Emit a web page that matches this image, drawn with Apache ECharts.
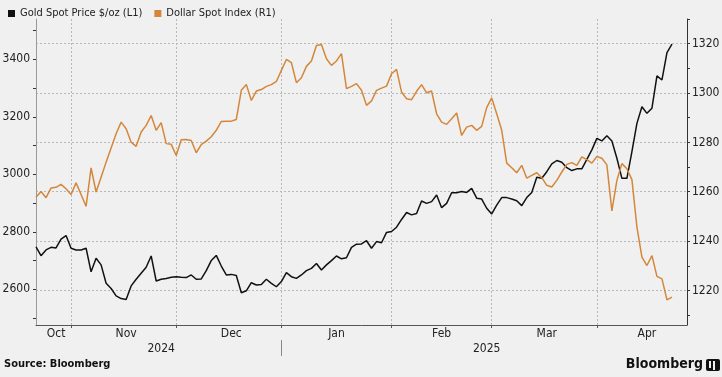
<!DOCTYPE html>
<html>
<head>
<meta charset="utf-8">
<script src="https://cdn.jsdelivr.net/npm/echarts@6/dist/echarts.min.js"></script>
<style>
html,body{margin:0;padding:0;background:#f0f0f0;}
#main{width:722px;height:377px;}
</style>
</head>
<body>
<div id="main"></div>
<script>
// gold spot, $/oz (left axis), one value per trading day from 23 Oct 2024
var goldSpot = [2748,2717,2737,2746,2744,2775,2787,2743,2737,2737,2743,2661,2708,2685,2621,2603,2577,2568,2565,2612,2635,2656,
  2677,2716,2629,2635,2638,2642,2644,2642,2641,2650,2635,2636,2665,2700,2718,2681,2650,2652,2648,2588,2595,2623,
  2615,2617,2635,2621,2609,2627,2658,2644,2638,2650,2665,2673,2690,2667,2685,2700,2716,2706,2710,2746,2757,2758,
  2769,2743,2766,2762,2798,2801,2816,2843,2867,2859,2864,2907,2899,2905,2928,2884,2899,2936,2936,2940,2937,2951,
  2917,2914,2882,2862,2893,2919,2919,2914,2908,2891,2919,2937,2990,2986,3009,3036,3048,3042,3023,3013,3019,3019,
  3052,3085,3125,3116,3134,3116,3056,2986,2986,3079,3177,3235,3212,3230,3342,3328,3423,3453];
// Bloomberg dollar spot index (right axis)
var dollarIndex = [1257.8,1260.1,1257.6,1261.5,1261.8,1263.0,1261.2,1258.9,1263.6,1258.9,1254.1,1269.7,1259.9,1265.9,1272.0,1277.7,1283.5,1288.2,1285.5,1280.1,1278.4,1284.2,
  1286.9,1290.9,1284.9,1288.0,1279.5,1279.2,1274.7,1281.1,1281.2,1280.8,1275.8,1279.1,1280.5,1282.3,1284.9,1288.5,1288.6,1288.6,1289.3,1301.1,1303.5,1297.0,
  1300.8,1301.4,1302.7,1303.4,1304.7,1309.2,1313.6,1312.3,1304.2,1306.2,1310.8,1313.0,1319.3,1319.7,1313.9,1311.2,1313.0,1316.0,1301.8,1302.7,1303.8,1301.1,
  1295.0,1296.8,1301.1,1302.0,1302.8,1307.8,1309.6,1300.4,1297.7,1297.3,1300.7,1303.4,1300.1,1300.8,1291.6,1288.2,1287.3,1289.6,1291.9,1282.8,1286.2,1286.9,
  1284.9,1286.5,1294.1,1298.0,1291.6,1284.9,1271.6,1269.7,1267.7,1270.7,1265.5,1266.6,1267.7,1265.7,1262.6,1261.9,1264.6,1268.0,1271.1,1271.8,1270.7,1274.1,
  1273.0,1271.6,1274.3,1273.6,1270.9,1252.2,1264.6,1271.4,1269.3,1264.9,1245.7,1233.5,1230.1,1234.1,1225.7,1224.7,1216.2,1217.3];

var monthNames = ['Jan','Feb','Mar','Apr','May','Jun','Jul','Aug','Sep','Oct','Nov','Dec'];
var goldLabels = [2600,2800,3000,3200,3400];
var goldTicks = [2500,2600,2700,2800,2900,3000,3100,3200,3300,3400,3500];
var dollarLabels = [1220,1240,1260,1280,1300,1320];
var dollarTicks = [1210,1220,1230,1240,1250,1260,1270,1280,1290,1300,1310,1320,1330];
var holidays = ['2024-12-25','2025-01-01'];

var font = "'DejaVu Sans Condensed','DejaVu Sans',sans-serif";

// trading days on the axis
var days = [];
var d = new Date(Date.UTC(2024,9,23));
var end = new Date(Date.UTC(2025,3,25));
while (d <= end) {
	var s = d.toISOString().slice(0,10);
	var wd = d.getUTCDay();
	if (wd !== 0 && wd !== 6 && holidays.indexOf(s) < 0) days.push(s);
	d.setUTCDate(d.getUTCDate()+1);
}

function groups(len){
	var g = [];
	days.forEach(function(s,i){
		var k = s.slice(0,len);
		if (!g.length || g[g.length-1].k !== k) g.push({k:k,first:i,last:i});
		else g[g.length-1].last = i;
	});
	return g;
}
var months = groups(7), years = groups(4);
var monthStart = {}, monthMid = {}, yearMid = {};
months.forEach(function(m,j){
	if (j > 0) monthStart[m.first] = true;
	monthMid[Math.round((m.first+m.last+1)/2)] = true;
});
years.forEach(function(y){ yearMid[Math.round((y.first+y.last+1)/2)] = true; });
var yearBreak = years[1].first;

function plain(v){ return String(v); }

var myChart = echarts.init(document.getElementById('main'));
var option = {
	backgroundColor:'#f0f0f0',
	animation:false,
	textStyle:{fontFamily:font},
	legend:{
		left:3, top:3,
		icon:'rect', itemWidth:7, itemHeight:7, itemGap:12,
		textStyle:{fontSize:11, color:'#222', fontFamily:font},
		data:['Gold Spot Price $/oz (L1)','Dollar Spot Index (R1)']
	},
	grid:{left:36, right:35, top:19, bottom:52, outerBoundsMode:'none'},
	xAxis:[{
		type:'category', data:days, boundaryGap:false,
		axisLine:{lineStyle:{color:'#555'}},
		axisTick:{show:true, length:3, interval:function(i){return !!monthStart[i];}, lineStyle:{color:'#555'}},
		splitLine:{show:true, interval:function(i){return !!monthStart[i];}, lineStyle:{color:'#b8b8b8', type:[2,2]}},
		axisLabel:{
			interval:function(i){return !!monthMid[i];},
			formatter:function(v){return monthNames[+v.slice(5,7)-1];},
			margin:3, fontSize:12, color:'#222', fontFamily:font
		}
	},{
		type:'category', data:days, boundaryGap:false, position:'bottom', offset:15,
		axisLine:{show:false},
		axisTick:{show:true, length:16, interval:function(i){return i === yearBreak;}, lineStyle:{color:'#888'}},
		splitLine:{show:false},
		axisLabel:{
			interval:function(i){return !!yearMid[i];},
			formatter:function(v){return v.slice(0,4);},
			margin:3, fontSize:12, color:'#222', fontFamily:font
		}
	}],
	yAxis:[{
		type:'value', position:'left', min:2476, max:3540,
		axisLine:{show:true, lineStyle:{color:'#999'}},
		axisTick:{show:true, length:3, customValues:goldTicks, lineStyle:{color:'#333'}},
		axisLabel:{customValues:goldLabels, formatter:plain, margin:6, fontSize:12, color:'#222', fontFamily:font},
		splitLine:{show:false}
	},{
		type:'value', position:'right', min:1206, max:1330,
		axisLine:{show:true, lineStyle:{color:'#333'}},
		axisTick:{show:true, length:3, customValues:dollarTicks, lineStyle:{color:'#333'}},
		axisLabel:{customValues:dollarLabels, formatter:plain, margin:5, fontSize:12, color:'#222', fontFamily:font},
		splitLine:{show:false}
	},{
		// gridlines of the right axis
		type:'value', position:'right', min:1206, max:1330,
		axisLine:{show:false},
		axisTick:{show:false, customValues:dollarLabels},
		axisLabel:{show:false},
		splitLine:{show:true, lineStyle:{color:'#b8b8b8', type:[2,2]}}
	}],
	series:[{
		name:'Gold Spot Price $/oz (L1)', type:'line', yAxisIndex:0,
		data:goldSpot, showSymbol:false,
		lineStyle:{width:1.5, color:'#111'}, itemStyle:{color:'#111'}
	},{
		name:'Dollar Spot Index (R1)', type:'line', yAxisIndex:1,
		data:dollarIndex, showSymbol:false,
		lineStyle:{width:1.5, color:'#d4873a'}, itemStyle:{color:'#d4873a'}
	}],
	graphic:[
		{type:'text', left:4, top:359, style:{text:'Source: Bloomberg', font:"bold 11px "+font, fill:'#111'}},
		{type:'text', right:19, top:357, style:{text:'Bloomberg', font:"bold 14px "+font, fill:'#111'}},
		{type:'rect', right:2, top:359, shape:{width:14, height:12, r:2}, style:{fill:'#111'}},
		{type:'rect', right:11, top:361, shape:{width:2, height:7}, style:{fill:'#f0f0f0'}},
		{type:'rect', right:7, top:361, shape:{width:2, height:9}, style:{fill:'#f0f0f0'}}
	]
};
myChart.setOption(option);
</script>
</body>
</html>
